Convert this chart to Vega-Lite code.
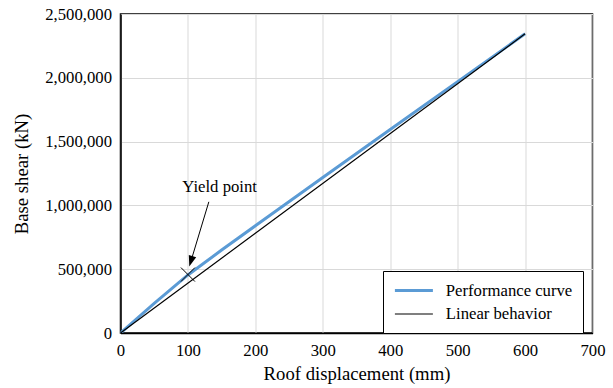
{
  "$schema": "https://vega.github.io/schema/vega-lite/v6.json",
  "autosize": "none",
  "width": 472,
  "height": 319,
  "padding": {"left": 120.5, "top": 14, "right": 20.5, "bottom": 55},
  "background": "white",
  "config": {
    "font": "Liberation Serif",
    "view": {"stroke": "black", "strokeWidth": 1.5},
    "axis": {
      "labelFont": "Liberation Serif",
      "labelFontSize": 16.7,
      "labelColor": "black",
      "titleFont": "Liberation Serif",
      "titleFontSize": 18.7,
      "titleFontWeight": "normal",
      "titleColor": "black",
      "gridColor": "#d9d9d9",
      "gridWidth": 1,
      "domainColor": "black",
      "domainWidth": 1.5,
      "ticks": false,
      "labelPadding": 9,
      "labelFlush": false
    },
    "legend": {
      "orient": "none",
      "legendX": 262.5,
      "legendY": 257,
      "strokeColor": "black",
      "fillColor": "white",
      "padding": 10,
      "labelFont": "Liberation Serif",
      "labelFontSize": 16.7,
      "labelColor": "black",
      "labelLimit": 300,
      "labelOffset": 33.8,
      "symbolType": "M-1,0L4,0",
      "symbolSize": 231,
      "rowPadding": 5.5
    }
  },
  "datasets": {
    "curves": [
      {"series": "Performance curve", "x": 0, "y": 0},
      {"series": "Performance curve", "x": 50, "y": 233000},
      {"series": "Performance curve", "x": 100, "y": 455000},
      {"series": "Performance curve", "x": 150, "y": 650000},
      {"series": "Performance curve", "x": 200, "y": 840000},
      {"series": "Performance curve", "x": 300, "y": 1218000},
      {"series": "Performance curve", "x": 400, "y": 1595000},
      {"series": "Performance curve", "x": 500, "y": 1970000},
      {"series": "Performance curve", "x": 600, "y": 2345000},
      {"series": "Linear behavior", "x": 0, "y": 0},
      {"series": "Linear behavior", "x": 600, "y": 2345000}
    ],
    "yield": [{"x": 100, "y": 458000}],
    "arrow": [{"x": 131, "y": 1028000, "x2": 104.4, "y2": 562000}],
    "label": [{"x": 147, "y": 1143000, "text": "Yield point"}]
  },
  "layer": [
    {
      "data": {"name": "curves"},
      "mark": {"type": "line", "clip": true},
      "encoding": {
        "x": {
          "field": "x", "type": "quantitative",
          "scale": {"domain": [0, 700], "nice": false},
          "axis": {"values": [0, 100, 200, 300, 400, 500, 600, 700], "title": "Roof displacement (mm)", "titlePadding": 6}
        },
        "y": {
          "field": "y", "type": "quantitative",
          "scale": {"domain": [0, 2500000], "nice": false},
          "axis": {"values": [0, 500000, 1000000, 1500000, 2000000, 2500000], "format": ",d", "title": "Base shear (kN)", "titlePadding": 13}
        },
        "color": {
          "field": "series", "type": "nominal",
          "scale": {"domain": ["Performance curve", "Linear behavior"], "range": ["#5B9BD5", "#000000"]},
          "legend": {"title": null}
        },
        "strokeWidth": {
          "field": "series", "type": "nominal",
          "scale": {"domain": ["Performance curve", "Linear behavior"], "range": [3, 1.2]},
          "legend": {"title": null}
        },
        "order": {"field": "x", "type": "quantitative"}
      }
    },
    {
      "data": {"name": "yield"},
      "mark": {"type": "point", "shape": "M-1,-1L1,1M-1,1L1,-1", "size": 196, "stroke": "black", "strokeWidth": 1, "filled": false, "opacity": 1},
      "encoding": {
        "x": {"field": "x", "type": "quantitative"},
        "y": {"field": "y", "type": "quantitative"}
      }
    },
    {
      "data": {"name": "arrow"},
      "mark": {"type": "rule", "color": "black", "strokeWidth": 1},
      "encoding": {
        "x": {"field": "x", "type": "quantitative"},
        "y": {"field": "y", "type": "quantitative"},
        "x2": {"field": "x2"},
        "y2": {"field": "y2"}
      }
    },
    {
      "data": {"name": "arrow"},
      "mark": {"type": "point", "shape": "M-0.7,-1L0.7,-1L0,1Z", "size": 121, "filled": true, "color": "black", "opacity": 1, "angle": 17},
      "encoding": {
        "x": {"field": "x2", "type": "quantitative"},
        "y": {"field": "y2", "type": "quantitative"}
      }
    },
    {
      "data": {"name": "label"},
      "mark": {"type": "text", "font": "Liberation Serif", "fontSize": 16.7, "color": "black", "align": "center", "baseline": "middle"},
      "encoding": {
        "x": {"field": "x", "type": "quantitative"},
        "y": {"field": "y", "type": "quantitative"},
        "text": {"field": "text"}
      }
    }
  ]
}
